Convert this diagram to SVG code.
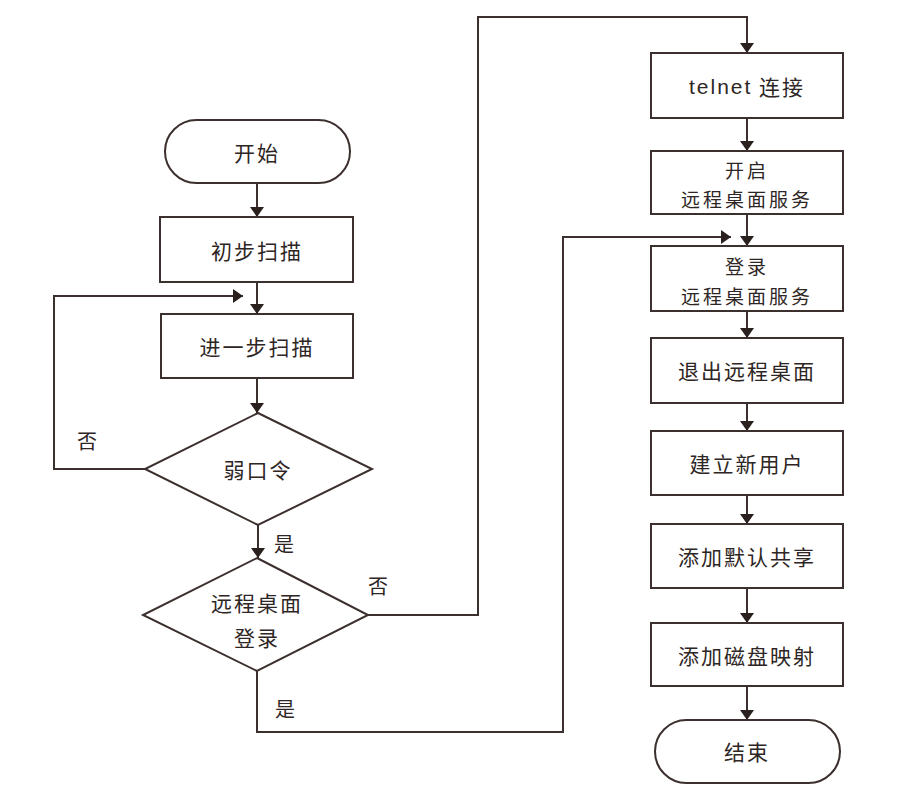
<svg xmlns="http://www.w3.org/2000/svg" width="914" height="798" viewBox="0 0 914 798">
<style>
.s{fill:#fff;stroke:#3b302d;stroke-width:2}
.c{fill:none;stroke:#3b302d;stroke-width:2}
.t{font-family:"Noto Sans CJK SC","Liberation Sans",sans-serif;font-size:21px;fill:#2e2624;text-anchor:middle;dominant-baseline:central;letter-spacing:2px}
.t2{font-family:"Noto Sans CJK SC","Liberation Sans",sans-serif;font-size:19px;fill:#2e2624;text-anchor:middle;dominant-baseline:central;letter-spacing:3px}
.l{font-family:"Noto Sans CJK SC","Liberation Sans",sans-serif;font-size:20px;fill:#2e2624;text-anchor:middle;dominant-baseline:central}
</style>
<defs>
<marker id="ah" markerWidth="10" markerHeight="14" viewBox="0 0 10 14" refX="10" refY="7" orient="auto" markerUnits="userSpaceOnUse">
<path d="M0,0 L10,7 L0,14 Z" fill="#2a201e"/>
</marker>
</defs>
<rect width="914" height="798" fill="#fff"/>
<g id="connectors">
<path class="c" d="M257,183 V217" marker-end="url(#ah)"/>
<path class="c" d="M257,282 V314" marker-end="url(#ah)"/>
<path class="c" d="M257,378 V413" marker-end="url(#ah)"/>
<path class="c" d="M145,469 H54 V296 H243" marker-end="url(#ah)"/>
<path class="c" d="M258,525 V558" marker-end="url(#ah)"/>
<path class="c" d="M368,615 H478 V17 H747 V53" marker-end="url(#ah)"/>
<path class="c" d="M257,671 V732 H563 V237 H731" marker-end="url(#ah)"/>
<path class="c" d="M747,118 V151" marker-end="url(#ah)"/>
<path class="c" d="M747,214 V246" marker-end="url(#ah)"/>
<path class="c" d="M747,311 V338" marker-end="url(#ah)"/>
<path class="c" d="M747,403 V431" marker-end="url(#ah)"/>
<path class="c" d="M747,495 V524" marker-end="url(#ah)"/>
<path class="c" d="M747,588 V623" marker-end="url(#ah)"/>
<path class="c" d="M747,686 V720" marker-end="url(#ah)"/>
<text class="l" x="87" y="440">否</text>
<text class="l" x="284" y="543">是</text>
<text class="l" x="378" y="585">否</text>
<text class="l" x="285" y="708">是</text>
</g>
<g id="start"><rect class="s" x="165" y="120" width="185" height="63" rx="31.5"/><text class="t" x="257" y="152">开始</text></g>
<g id="scan1"><rect class="s" x="160" y="217" width="193" height="65"/><text class="t" x="257" y="250">初步扫描</text></g>
<g id="scan2"><rect class="s" x="161" y="314" width="192" height="64"/><text class="t" x="257" y="346">进一步扫描</text></g>
<g id="weakpw"><polygon class="s" points="258,413 372,469 258,525 145,469"/><text class="t" x="258" y="469">弱口令</text></g>
<g id="rdplogin"><polygon class="s" points="257,558 368,615 257,671 143,615"/><text class="t" x="257" y="602">远程桌面</text><text class="t" x="257" y="637">登录</text></g>
<g id="telnet"><rect class="s" x="651" y="53" width="192" height="65"/><text class="t" x="747" y="86"><tspan font-family="Liberation Sans">telnet</tspan> 连接</text></g>
<g id="enable"><rect class="s" x="651" y="151" width="192" height="63"/><text class="t2" x="747" y="169">开启</text><text class="t2" x="747" y="198">远程桌面服务</text></g>
<g id="login"><rect class="s" x="651" y="246" width="192" height="65"/><text class="t2" x="747" y="265">登录</text><text class="t2" x="747" y="295">远程桌面服务</text></g>
<g id="exit"><rect class="s" x="651" y="338" width="192" height="65"/><text class="t" x="747" y="370">退出远程桌面</text></g>
<g id="newuser"><rect class="s" x="651" y="431" width="192" height="64"/><text class="t" x="747" y="463">建立新用户</text></g>
<g id="share"><rect class="s" x="651" y="524" width="192" height="64"/><text class="t" x="747" y="556">添加默认共享</text></g>
<g id="diskmap"><rect class="s" x="651" y="623" width="192" height="63"/><text class="t" x="747" y="655">添加磁盘映射</text></g>
<g id="end"><rect class="s" x="655" y="720" width="185" height="63" rx="31.5"/><text class="t" x="747" y="751">结束</text></g>
</svg>
